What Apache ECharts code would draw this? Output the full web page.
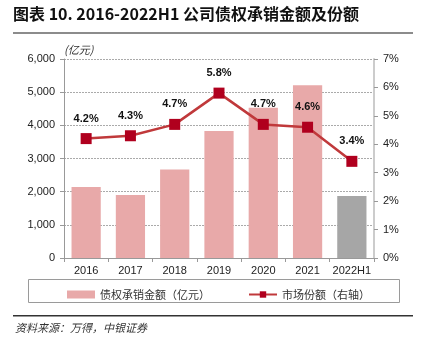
<!DOCTYPE html>
<html>
<head>
<meta charset="utf-8">
<script src="https://cdn.jsdelivr.net/npm/echarts@6/dist/echarts.min.js"></script>
<style>
  html, body { margin: 0; padding: 0; background: #fff; }
  #chart { width: 421px; height: 352px; }
</style>
</head>
<body>
<div id="chart"></div>
<script>
var years = ["2016", "2017", "2018", "2019", "2020", "2021", "2022H1"];
var amount = [2140, 1900, 2670, 3830, 4530, 5210, 1870];
var share = [4.2, 4.3, 4.7, 5.8, 4.7, 4.6, 3.4];
var leftTicks = [0, 6000, 1000];
var rightTicks = [0, 7, 1];

var barColor = "#E8A9A9";
var lastBarColor = "#A6A6A6";

var barData = amount.map(function (v, i) {
  return i == amount.length - 1 ? { value: v, itemStyle: { color: lastBarColor } } : v;
});

var chart = echarts.init(document.getElementById("chart"));
var option = {
  animation: false,
  textStyle: { fontFamily: "Liberation Sans, Arial, sans-serif" },
  grid: { left: 64, right: 47, top: 59, bottom: 94, containLabel: false },
  graphic: [
    {
      type: "text", left: 13, top: 6,
      style: { text: "图表 10. 2016-2022H1 公司债权承销金额及份额", font: "bold 16px 'Noto Sans CJK SC', sans-serif", fill: "#111" }
    },
    { type: "rect", shape: { x: 13, y: 32, width: 400, height: 2 }, style: { fill: "#8c8c8c" } },
    { type: "rect", shape: { x: 28.5, y: 279.5, width: 371, height: 23 }, style: { fill: "none", stroke: "#9a9a9a", lineWidth: 1 } },
    { type: "rect", shape: { x: 13, y: 315, width: 400, height: 1.5 }, style: { fill: "#333" } },
    {
      type: "text", left: 15, top: 322,
      style: { text: "资料来源：万得，中银证券", font: "italic 11px 'Noto Sans CJK SC', sans-serif", fill: "#333" }
    }
  ],
  legend: {
    left: 62, top: 284, itemGap: 38, itemWidth: 28, itemHeight: 8,
    textStyle: { fontFamily: "Noto Sans CJK SC", fontSize: 11, color: "#333" },
    data: [
      { name: "债权承销金额（亿元）", icon: "rect", itemStyle: { color: barColor } },
      { name: "市场份额（右轴）" }
    ]
  },
  xAxis: {
    type: "category",
    data: years,
    axisLine: { lineStyle: { color: "#999" } },
    axisTick: { show: true, length: 4, lineStyle: { color: "#999" } },
    axisLabel: { color: "#222", fontSize: 11, margin: 7, interval: 0 }
  },
  yAxis: [
    {
      type: "value",
      min: leftTicks[0], max: leftTicks[1], interval: leftTicks[2],
      name: "(亿元)", nameLocation: "end", nameGap: 4,
      nameTextStyle: { fontFamily: "Noto Sans CJK SC", fontSize: 11, color: "#333", align: "left", fontStyle: "italic" },
      axisLine: { show: true, lineStyle: { color: "#999" } },
      axisTick: { show: true, length: 4, lineStyle: { color: "#999" } },
      axisLabel: {
        color: "#222", fontSize: 11, margin: 9,
        formatter: function (v) { return v.toString().replace(/(\d)(?=(\d{3})+(?!\d))/g, "$1,"); }
      },
      splitLine: { show: true, lineStyle: { color: "#aaa", type: [2, 1], width: 1 } }
    },
    {
      type: "value",
      min: rightTicks[0], max: rightTicks[1], interval: rightTicks[2],
      position: "right",
      axisLine: { show: true, lineStyle: { color: "#ccc", width: 2 } },
      axisTick: { show: true, length: 4, lineStyle: { color: "#999" } },
      axisLabel: { color: "#222", fontSize: 11, margin: 9, formatter: "{value}%" },
      splitLine: { show: false }
    }
  ],
  series: [
    {
      name: "债权承销金额（亿元）",
      type: "bar",
      barWidth: "66%",
      data: barData,
      itemStyle: { color: barColor }
    },
    {
      name: "市场份额（右轴）",
      type: "line",
      yAxisIndex: 1,
      data: share,
      symbol: "rect",
      symbolSize: 11,
      lineStyle: { color: "#C0393B", width: 2.5 },
      itemStyle: { color: "#B0001E" },
      label: {
        show: true, position: "top", distance: 9,
        color: "#111", fontWeight: "bold", fontSize: 11,
        formatter: function (p) { return p.value.toFixed(1) + "%"; }
      }
    }
  ]
};
chart.setOption(option);
</script>
</body>
</html>
